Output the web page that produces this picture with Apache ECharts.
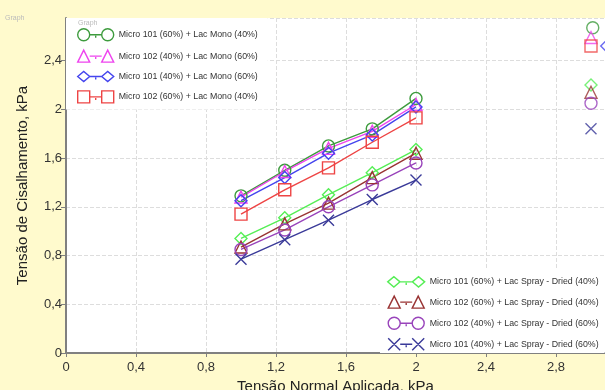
<!DOCTYPE html>
<html>
<head>
<meta charset="utf-8">
<script src="https://cdn.jsdelivr.net/npm/echarts@6/dist/echarts.min.js"></script>
<style>
html, body { margin: 0; padding: 0; background: #fffacd; }
#main { width: 605px; height: 390px; }
</style>
</head>
<body>
<div id="main"></div>
<script>
// tensao normal (kPa)
var xVals = [1, 1.25, 1.5, 1.75, 2];
// tensao de cisalhamento (kPa)
var m101_60_mono = [1.29, 1.50, 1.70, 1.84, 2.09];
var m102_40_mono = [1.28, 1.49, 1.68, 1.82, 2.04];
var m101_40_mono = [1.25, 1.44, 1.64, 1.79, 2.02];
var m102_60_mono = [1.14, 1.34, 1.52, 1.73, 1.93];
var m101_60_spray = [0.94, 1.11, 1.30, 1.48, 1.67];
var m102_60_spray = [0.87, 1.06, 1.23, 1.44, 1.64];
var m102_40_spray = [0.85, 1.01, 1.20, 1.38, 1.56];
var m101_40_spray = [0.77, 0.93, 1.09, 1.26, 1.42];
// pontos isolados na borda direita
var outX = [3.01, 3, 3.09, 3, 3, 3, 3, 3];
var outVals = [2.67, 2.59, 2.52, 2.52, 2.20, 2.14, 2.05, 1.84];

var names = [
    'Micro 101 (60%) + Lac Mono (40%)',
    'Micro 102 (40%) + Lac Mono (60%)',
    'Micro 101 (40%) + Lac Mono (60%)',
    'Micro 102 (60%) + Lac Mono (40%)',
    'Micro 101 (60%) + Lac Spray - Dried (40%)',
    'Micro 102 (60%) + Lac Spray - Dried (40%)',
    'Micro 102 (40%) + Lac Spray - Dried (60%)',
    'Micro 101 (40%) + Lac Spray - Dried (60%)'
];
var allVals = [m101_60_mono, m102_40_mono, m101_40_mono, m102_60_mono,
    m101_60_spray, m102_60_spray, m102_40_spray, m101_40_spray];
var colors = ['#3d9b3d', '#ee44ee', '#4444ee', '#ee4444', '#55ee55', '#993333', '#9944bb', '#3a3a99'];
var shapes = ['circle', 'triangle', 'diamond', 'rect', 'diamond', 'triangle', 'circle', 'cross'];

var fontFam = 'Liberation Sans, Arial, sans-serif';

function symbolOf(shape) {
    if (shape == 'cross') return 'path://M0,0L10,10M10,0L0,10';
    return shape;
}
// icone da legenda: simbolo - linha - simbolo
function shapePath(shape, x) {
    if (shape == 'circle') return 'M' + x + ',6a6,6 0 1,0 12,0a6,6 0 1,0 -12,0';
    if (shape == 'triangle') return 'M' + x + ',12L' + (x + 6) + ',0L' + (x + 12) + ',12Z';
    if (shape == 'diamond') return 'M' + x + ',6L' + (x + 6) + ',1L' + (x + 12) + ',6L' + (x + 6) + ',11Z';
    if (shape == 'rect') return 'M' + x + ',0L' + (x + 12) + ',0L' + (x + 12) + ',12L' + x + ',12Z';
    return 'M' + x + ',0L' + (x + 12) + ',12M' + x + ',12L' + (x + 12) + ',0';
}
function pairIcon(shape) {
    return 'path://' + shapePath(shape, 0) + 'M12,6L24,6M18,7L18,9' + shapePath(shape, 24);
}

var series = [];
for (var i = 0; i < names.length; i++) {
    var pts = [];
    for (var j = 0; j < xVals.length; j++) {
        pts.push([xVals[j], allVals[i][j]]);
    }
    series.push({
        name: names[i],
        type: 'line',
        symbol: symbolOf(shapes[i]),
        symbolSize: shapes[i] == 'cross' ? 11 : 12,
        lineStyle: { color: colors[i], width: 1.4 },
        itemStyle: { color: 'rgba(255,255,255,0)', borderColor: colors[i], borderWidth: 1.4 },
        data: pts
    });
}
for (var k = 0; k < names.length; k++) {
    series.push({
        name: names[k],
        type: 'scatter',
        clip: false,
        symbol: symbolOf(shapes[k]),
        symbolSize: shapes[k] == 'cross' ? 11 : 12,
        itemStyle: { color: 'rgba(255,255,255,0)', borderColor: colors[k], borderWidth: 1.4 },
        data: [[outX[k], outVals[k]]]
    });
}

function legendData(from, to) {
    var arr = [];
    for (var i = from; i < to; i++) {
        arr.push({
            name: names[i],
            icon: pairIcon(shapes[i]),
            itemStyle: { color: 'rgba(255,255,255,0)', borderColor: colors[i], borderWidth: 1.4 }
        });
    }
    return arr;
}

var commaFmt = function (v) { return String(v).replace('.', ','); };

var myCharts = echarts.init(document.getElementById('main'));
var option = {
    animation: false,
    backgroundColor: '#fffacd',
    textStyle: { fontFamily: fontFam },
    grid: {
        left: 66, right: 0, top: 18, bottom: 37,
        show: true, backgroundColor: '#ffffff', borderWidth: 0,
        containLabel: false, outerBoundsMode: 'none'
    },
    graphic: [
        { type: 'text', left: 5, top: 15, style: { text: 'Graph', fontSize: 7, fill: '#bbbbbb', fontFamily: fontFam } },
        { type: 'text', left: 78, top: 20, z: 200, style: { text: 'Graph', fontSize: 7, fill: '#bbbbbb', fontFamily: fontFam } }
    ],
    legend: [{
        orient: 'vertical',
        left: 66, top: 18,
        padding: [10, 10, 6, 11],
        itemWidth: 36, itemHeight: 12, itemGap: 8,
        backgroundColor: '#ffffff',
        textStyle: { fontSize: 8.8, color: '#333333', fontFamily: fontFam },
        data: legendData(0, 4)
    }, {
        orient: 'vertical',
        left: 380, top: 269,
        padding: [7, 6, 2, 7],
        itemWidth: 37, itemHeight: 12, itemGap: 7.7,
        backgroundColor: '#ffffff',
        textStyle: { fontSize: 8.8, color: '#333333', fontFamily: fontFam },
        data: legendData(4, 8)
    }],
    xAxis: {
        type: 'value',
        min: 0, max: 3.08, interval: 0.4,
        name: 'Tensão Normal Aplicada, kPa',
        nameLocation: 'middle', nameGap: 25,
        nameTextStyle: { fontSize: 15, color: '#222222' },
        axisLine: { show: true, lineStyle: { color: '#808080', width: 2 } },
        axisTick: { show: true, length: 4, lineStyle: { color: '#808080' } },
        axisLabel: { fontSize: 13, color: '#333333', margin: 8, showMaxLabel: false, formatter: commaFmt },
        splitLine: { show: true, lineStyle: { color: '#dddddd', type: 'dashed' } }
    },
    yAxis: {
        type: 'value',
        min: 0, max: 2.75, interval: 0.4,
        name: 'Tensão de Cisalhamento, kPa',
        nameLocation: 'middle', nameGap: 36,
        nameTextStyle: { fontSize: 15, color: '#222222' },
        axisLine: { show: true, lineStyle: { color: '#808080', width: 2 } },
        axisTick: { show: true, length: 5, lineStyle: { color: '#808080' } },
        axisLabel: { fontSize: 13, color: '#333333', margin: 4, showMaxLabel: false, formatter: commaFmt },
        splitLine: { show: true, lineStyle: { color: '#dddddd', type: 'dashed' } }
    },
    series: series
};
myCharts.setOption(option);
</script>
</body>
</html>
